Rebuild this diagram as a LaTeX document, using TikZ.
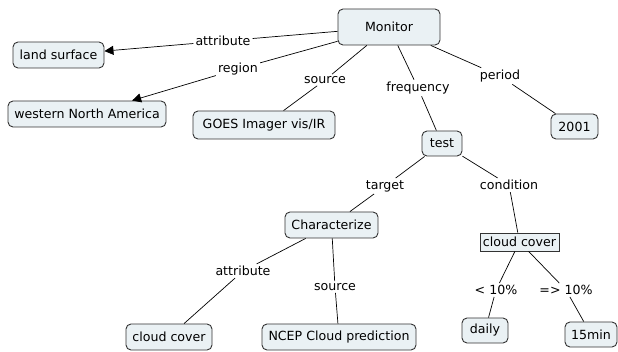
\documentclass[tikz,border=0pt]{standalone}
\usepackage{fontspec}
\setmainfont{DejaVu Sans}
\usetikzlibrary{arrows.meta}
\definecolor{boxfill}{HTML}{EAF1F4}
\definecolor{edge}{HTML}{333333}
\tikzset{
  concept/.style={draw=edge, fill=boxfill, rounded corners=5pt, line width=0.9pt, inner sep=0pt, font=\fontsize{12.6}{14}\selectfont},
  sqconcept/.style={draw=edge, fill=boxfill, line width=0.9pt, inner sep=0pt, font=\fontsize{12.6}{14}\selectfont},
  lbl/.style={inner sep=2pt, font=\fontsize{12.6}{14}\selectfont},
  link/.style={draw=black, line width=0.7pt},
  arrowlink/.style={link, -{Triangle[length=9pt,width=9pt]}},
}
\begin{document}
\begin{tikzpicture}[x=1pt,y=-1pt]
\useasboundingbox (0,0) rectangle (618,352);
% concepts
\node[concept, minimum width=102pt, minimum height=36pt] (mon) at (389,27) {Monitor};
\node[concept, minimum width=91pt, minimum height=26pt] (land) at (58.5,55) {land surface};
\node[concept, minimum width=158pt, minimum height=26pt] (wna) at (87,114) {western North America};
\node[concept, minimum width=142pt, minimum height=28pt] (goes) at (264,125) {GOES Imager vis/IR};
\node[concept, minimum width=47pt, minimum height=25pt] (y2001) at (574.5,126.5) {2001};
\node[concept, minimum width=40pt, minimum height=25pt] (test) at (442,143.5) {test};
\node[concept, minimum width=93pt, minimum height=26pt] (char) at (331.5,225) {Characterize};
\node[concept, minimum width=86pt, minimum height=26pt] (cc1) at (169,337) {cloud cover};
\node[concept, minimum width=154pt, minimum height=26pt] (ncep) at (339,337) {NCEP Cloud prediction};
\node[sqconcept, minimum width=79pt, minimum height=18pt] (cc2) at (519.5,242) {cloud cover};
\node[concept, minimum width=46pt, minimum height=25pt] (daily) at (485,330.5) {daily};
\node[concept, minimum width=52pt, minimum height=25pt] (min15) at (591,334.5) {15min};
% link labels
\node[lbl] (l1) at (223,41) {attribute};
\node[lbl] (l2) at (238,69) {region};
\node[lbl] (l3) at (325,80) {source};
\node[lbl] (l4) at (418,88) {frequency};
\node[lbl] (l5) at (500,76) {period};
\node[lbl] (l6) at (385,186) {target};
\node[lbl] (l7) at (509,185) {condition};
\node[lbl] (l8) at (243,271) {attribute};
\node[lbl] (l9) at (335,287) {source};
\node[lbl] (l10) at (496,290) {< 10\%};
\node[lbl] (l11) at (566,290) {=> 10\%};
% links
\draw[link] (mon) -- (l1); \draw[arrowlink] (l1) -- (land);
\draw[link] (mon) -- (l2); \draw[arrowlink] (l2) -- (wna);
\draw[link] (mon) -- (l3); \draw[link] (l3) -- (goes);
\draw[link] (mon) -- (l4); \draw[link] (l4) -- (test);
\draw[link] (mon) -- (l5); \draw[link] (l5) -- (y2001);
\draw[link] (test) -- (l6); \draw[link] (l6) -- (char);
\draw[link] (test) -- (l7); \draw[link] (l7) -- (cc2);
\draw[link] (char) -- (l8); \draw[link] (l8) -- (cc1);
\draw[link] (char) -- (l9); \draw[link] (l9) -- (ncep);
\draw[link] (cc2) -- (l10); \draw[link] (l10) -- (daily);
\draw[link] (cc2) -- (l11); \draw[link] (l11) -- (min15);
\end{tikzpicture}
\end{document}
